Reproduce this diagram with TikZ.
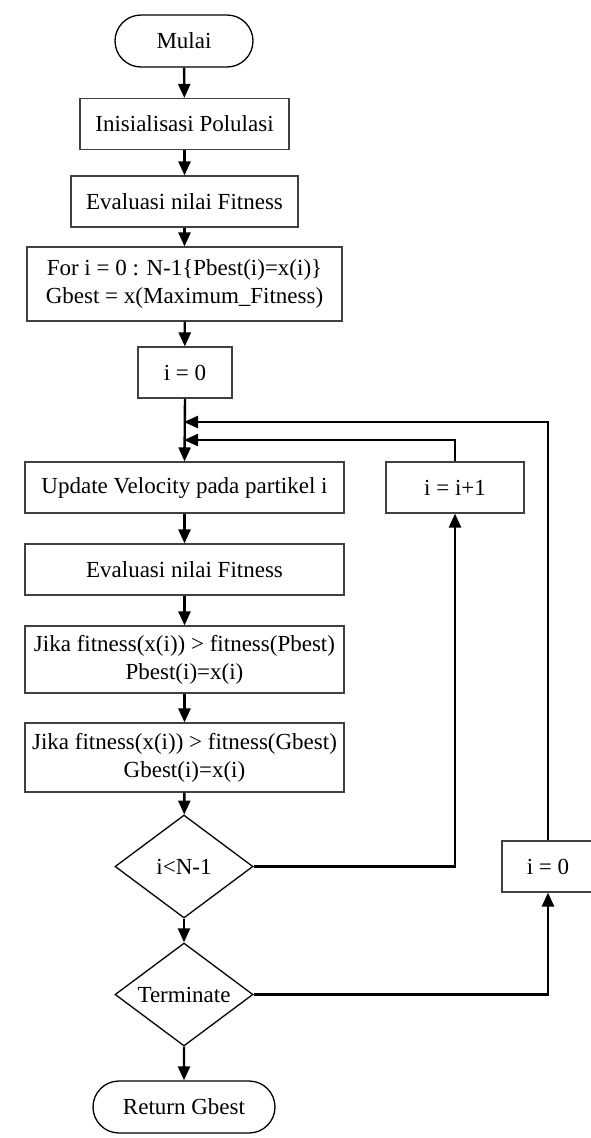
\documentclass[tikz,border=0pt]{standalone}
\usepackage{fontspec}
\setmainfont{Liberation Serif}
\usetikzlibrary{shapes.geometric,shapes.misc,arrows.meta}
\tikzset{
	box/.style={draw=black!75,line width=1.1pt,rectangle,inner sep=0pt,align=center,minimum height=51pt},
	term/.style={draw,line width=1.3pt,rounded rectangle,inner sep=0pt,minimum height=52pt},
	cond/.style={draw,line width=1.3pt,diamond,inner sep=0pt,aspect=1.34,minimum width=138pt,minimum height=103pt},
	flow/.style={line width=2.4pt,-{Triangle[length=14pt,width=12pt]}},
	line/.style={line width=2.4pt}
}
\begin{document}
\begin{tikzpicture}[x=1pt,y=-1pt,font=\fontsize{23}{28}\selectfont]
		\useasboundingbox (0,0) rectangle (590,1138);
		\node [term,minimum width=138pt] (mulai) at (184,41) {Mulai};
		\node [box,minimum width=209pt] (init) at (184.5,124) {Inisialisasi Polulasi};
		\node [box,minimum width=227pt] (eval1) at (184.5,201.5) {Evaluasi nilai Fitness};
		\node [box,minimum width=315pt,minimum height=74pt] (setbest) at (184.5,284) {For i = 0 : N-1\{Pbest(i)=x(i)\}\\Gbest = x(Maximum\_Fitness)};
		\node [box,minimum width=94pt] (izero) at (185,372.5) {i = 0};
		\node [box,minimum width=319pt] (update) at (184.5,487.5) {Update Velocity pada partikel i};
		\node [box,minimum width=138pt] (inc) at (455,487.5) {i = i+1};
		\node [box,minimum width=319pt] (eval2) at (184.5,569.5) {Evaluasi nilai Fitness};
		\node [box,minimum width=319pt,minimum height=67pt] (pbest) at (184.5,659.5) {Jika fitness(x(i)) > fitness(Pbest)\\Pbest(i)=x(i)};
		\node [box,minimum width=319pt,minimum height=69pt] (gbest) at (184.5,757.5) {Jika fitness(x(i)) > fitness(Gbest)\\Gbest(i)=x(i)};
		\node [cond] (loop) at (184,866.5) {i<N-1};
		\node [cond] (stopq) at (184,994.5) {Terminate};
		\node [box,minimum width=92pt] (reset) at (548,866.5) {i = 0};
		\node [term,minimum width=182pt] (ret) at (184,1107) {Return Gbest};
		\coordinate (J1) at (184,422);
		\coordinate (J2) at (184,440);
		% main column
		\draw [flow] (mulai) to (init);
		\draw [flow] (init) to (eval1);
		\draw [flow] (eval1) to (setbest);
		\draw [flow] (setbest) to (izero);
		\draw [flow] (izero.south) to (update.north);
		\draw [flow] (update) to (eval2);
		\draw [flow] (eval2) to (pbest);
		\draw [flow] (pbest) to (gbest);
		\draw [flow] (gbest) to (loop);
		\draw [flow] (loop) to (stopq);
		\draw [flow] (stopq) to (ret);
		% loops back
		\draw [flow] (loop.east) -| (inc.south);
		\draw [flow] (inc.north) |- (J2);
		\draw [flow] (stopq.east) -| (reset.south);
		\draw [flow] (reset.north) |- (J1);
	\end{tikzpicture}
\end{document}
